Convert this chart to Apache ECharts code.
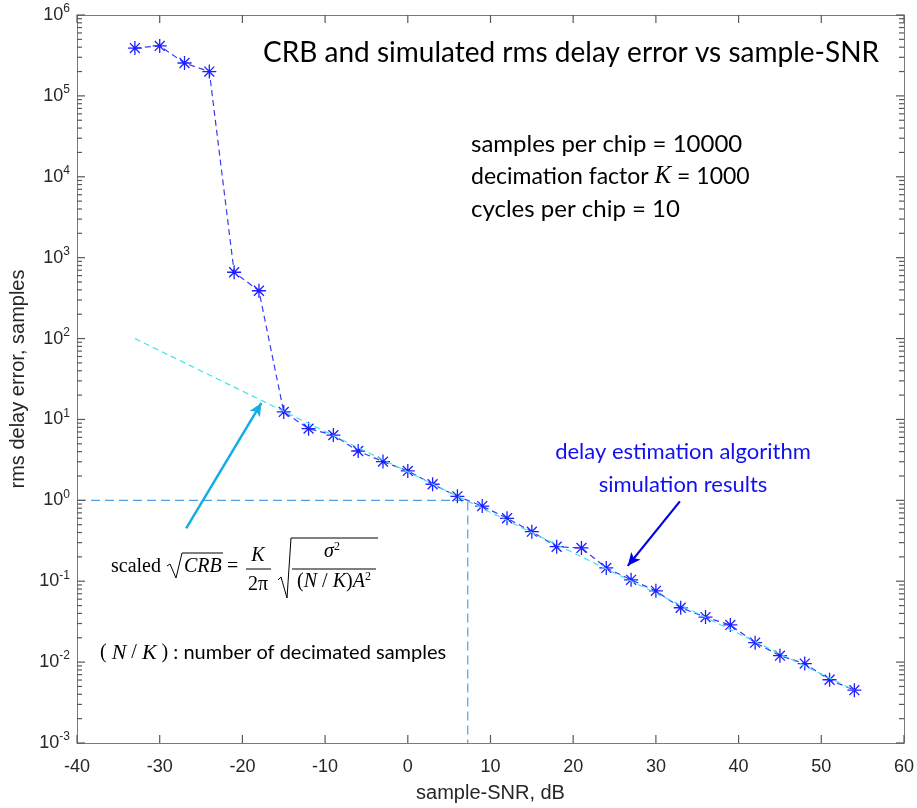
<!DOCTYPE html>
<html>
<head>
<meta charset="utf-8">
<script src="https://cdn.jsdelivr.net/npm/echarts@6/dist/echarts.min.js"></script>
<style>
  html, body { margin: 0; padding: 0; background: #ffffff; }
  #chart { width: 917px; height: 808px; }
</style>
</head>
<body>
<div id="chart"></div>
<script>
// Simulated rms delay error (samples) for each sample-SNR (dB)
const snrDb = [-33, -30, -27, -24, -21, -18, -15, -12, -9, -6, -3, 0, 3, 6, 9, 12, 15, 18, 21, 24, 27, 30, 33, 36, 39, 42, 45, 48, 51, 54];
const rmsError = [3.9e5, 4.15e5, 2.55e5, 2.0e5, 660, 390, 12.4, 7.7, 6.4, 4.07, 3.01, 2.31, 1.58, 1.12, 0.85, 0.60, 0.41, 0.267, 0.258, 0.146, 0.104, 0.076, 0.047, 0.036, 0.0288, 0.0174, 0.0120, 0.0096, 0.00605, 0.0045];

// Scaled sqrt(CRB): a straight line on log axes, given by its two ends
const crbSnr = [-33, 54];
const crbValue = [100, 0.0045];

// Guide lines marking where the CRB crosses one sample
const guideSnr = [-40, 7.25, 7.25];
const guideValue = [1, 1, 0.001];

// Axis ranges and ticks
const xMin = -40, xMax = 60, xStep = 10;
const xTicks = [-40, -30, -20, -10, 0, 10, 20, 30, 40, 50, 60];
const yMin = 1e-3, yMax = 1e6;
const yMajor = [1e-3, 1e-2, 1e-1, 1, 1e1, 1e2, 1e3, 1e4, 1e5, 1e6];
const yMinorMult = [2, 3, 4, 5, 6, 7, 8, 9];

// Annotation arrows (data coordinates: tail, head)
const crbArrow = [[-26.8, 0.45], [-17.7, 16]];
const simArrow = [[32.9, 0.97], [26.6, 0.155]];

const yMinor = [];
yMajor.slice(0, -1).forEach(d => yMinorMult.forEach(m => yMinor.push(+(d * m).toPrecision(3))));

const axisGray = '#7a7a7a';
const tickColor = '#595959';
const labelGray = '#262626';
const sansFont = '"Liberation Sans", Arial, sans-serif';
const calFont = 'Lato, "Open Sans", sans-serif';
const serifFont = '"Liberation Serif", "Times New Roman", serif';

function pairs(xs, ys) { return xs.map((x, i) => [x, ys[i]]); }

// Inward box ticks: [x, y, length, side]; side 0 left, 1 right, 2 bottom, 3 top
const majorLen = 8, minorLen = 5;
const boxTicks = [];
yMajor.forEach(v => { boxTicks.push([xMin, v, majorLen, 0]); boxTicks.push([xMax, v, majorLen, 1]); });
yMinor.forEach(v => { boxTicks.push([xMin, v, minorLen, 0]); boxTicks.push([xMax, v, minorLen, 1]); });
xTicks.forEach(v => { boxTicks.push([v, yMin, majorLen, 2]); boxTicks.push([v, yMax, majorLen, 3]); });

function renderTick(params, api) {
  const p = api.coord([api.value(0), api.value(1)]);
  const len = api.value(2), side = api.value(3);
  const dx = side === 0 ? len : side === 1 ? -len : 0;
  const dy = side === 2 ? -len : side === 3 ? len : 0;
  return {
    type: 'line',
    shape: { x1: p[0], y1: p[1], x2: p[0] + dx, y2: p[1] + dy },
    style: { stroke: tickColor, lineWidth: 1.2 }
  };
}

const asterisk = 'path://M0,-10L0,10M-10,0L10,0M-7.07,-7.07L7.07,7.07M-7.07,7.07L7.07,-7.07';

function yAxisBase(position) {
  return {
    type: 'log', logBase: 10, min: yMin, max: yMax, position: position,
    axisLine: { show: true, onZero: false, lineStyle: { color: axisGray, width: 1 } },
    splitLine: { show: false },
    axisLabel: { show: false },
    axisTick: { show: false },
    minorTick: { show: false }
  };
}

const chart = echarts.init(document.getElementById('chart'), null, { renderer: 'canvas' });

const leftAxis = yAxisBase('left');
leftAxis.axisLabel = {
  show: true, customValues: yMajor, margin: 7,
  formatter: v => '{b|10}{s|' + Math.round(Math.log10(v)) + '}',
  rich: {
    b: { fontFamily: sansFont, fontSize: 18, color: labelGray },
    s: { fontFamily: sansFont, fontSize: 12, color: labelGray, padding: [0, 0, 12, 0] }
  }
};
leftAxis.name = 'rms delay error, samples';
leftAxis.nameLocation = 'middle';
leftAxis.nameGap = 49;
leftAxis.nameTextStyle = { fontFamily: sansFont, fontSize: 20, color: labelGray };
const rightAxis = yAxisBase('right');

function xAxisBase(position) {
  return {
    type: 'value', min: xMin, max: xMax, interval: xStep, position: position,
    axisLine: { show: true, onZero: false, lineStyle: { color: axisGray, width: 1 } },
    splitLine: { show: false },
    axisTick: { show: false },
    axisLabel: { show: false }
  };
}
const xBottom = xAxisBase('bottom');
xBottom.axisLabel = { show: true, fontFamily: sansFont, fontSize: 18, color: labelGray, margin: 15 };
xBottom.name = 'sample-SNR, dB';
xBottom.nameLocation = 'middle';
xBottom.nameGap = 40;
xBottom.nameTextStyle = { fontFamily: sansFont, fontSize: 20, color: labelGray };
const xTop = xAxisBase('top');

const black = '#000';
const option = {
  backgroundColor: '#ffffff',
  animation: false,
  grid: { left: 77, right: 12, top: 15, bottom: 62, containLabel: false },
  xAxis: [xBottom, xTop],
  yAxis: [leftAxis, rightAxis],
  series: [
    {
      name: 'box ticks', type: 'custom', xAxisIndex: 0, yAxisIndex: 0,
      data: boxTicks, renderItem: renderTick, clip: false, silent: true, z: 10
    },
    {
      name: 'guide', type: 'line', xAxisIndex: 0, yAxisIndex: 0,
      data: pairs(guideSnr, guideValue), showSymbol: false, symbol: 'none',
      lineStyle: { color: '#4aa0ec', width: 1.2, type: [9, 5] }, z: 2, silent: true
    },
    {
      name: 'simulation', type: 'line', xAxisIndex: 0, yAxisIndex: 0,
      data: pairs(snrDb, rmsError),
      symbol: asterisk, symbolSize: 14, showAllSymbol: true,
      itemStyle: { color: '#1f1fff', borderColor: '#1f1fff', borderWidth: 1.3 },
      lineStyle: { color: '#3a3aef', width: 1.2, type: [6, 4] }, z: 3,
      markLine: {
        silent: true, symbol: ['none', 'arrow'], symbolSize: [9, 13], label: { show: false },
        data: [
          [{ coord: simArrow[0], lineStyle: { color: '#0000e6', width: 2.2, type: 'solid' } }, { coord: simArrow[1] }],
          [{ coord: crbArrow[0], lineStyle: { color: '#14aee6', width: 2.5, type: 'solid' } }, { coord: crbArrow[1] }]
        ]
      }
    },
    {
      name: 'CRB', type: 'line', xAxisIndex: 0, yAxisIndex: 0,
      data: pairs(crbSnr, crbValue), symbol: 'none',
      lineStyle: { color: '#3fe3f0', width: 1.2, type: [6, 4] }, z: 4
    }
  ],
  graphic: [
    { type: 'text', left: 263, top: 39, style: { text: 'CRB and simulated rms delay error vs sample-SNR', font: '28px ' + calFont, fill: black } },
    { type: 'text', left: 471, top: 132, style: { text: 'samples per chip = 10000', font: '24px ' + calFont, fill: black } },
    { type: 'text', left: 471, top: 164, style: {
      text: '{a|decimation factor }{k|K}{a| = 1000}',
      rich: { a: { font: '23px ' + calFont, fill: black }, k: { font: 'italic 25px ' + serifFont, fill: black } }
    } },
    { type: 'text', left: 471, top: 197, style: { text: 'cycles per chip = 10', font: '24px ' + calFont, fill: black } },
    { type: 'text', x: 683, y: 441, style: { text: 'delay estimation algorithm', font: '22px ' + calFont, fill: '#1010f0', align: 'center' } },
    { type: 'text', x: 683, y: 474, style: { text: 'simulation results', font: '22px ' + calFont, fill: '#1010f0', align: 'center' } },
    // scaled sqrt(CRB) = K / (2 pi) * sqrt(sigma^2 / ((N/K) A^2))
    { type: 'text', x: 111, y: 557, style: { text: 'scaled', font: '20px ' + serifFont, fill: black } },
    { type: 'polyline', shape: { points: [[167, 566], [170, 564], [176, 578], [182, 553], [223, 553]] }, style: { stroke: black, lineWidth: 1, fill: null } },
    { type: 'text', x: 184, y: 557, style: { text: 'CRB', font: 'italic 20px ' + serifFont, fill: black } },
    { type: 'text', x: 227, y: 557, style: { text: '=', font: '20px ' + serifFont, fill: black } },
    { type: 'text', x: 258, y: 546, style: { text: 'K', font: 'italic 20px ' + serifFont, fill: black, align: 'center' } },
    { type: 'line', shape: { x1: 246, y1: 569, x2: 271, y2: 569 }, style: { stroke: black, lineWidth: 1 } },
    { type: 'text', x: 258, y: 575, style: { text: '2π', font: '20px ' + serifFont, fill: black, align: 'center' } },
    { type: 'polyline', shape: { points: [[278, 580], [281, 577], [287, 598], [291, 538], [378, 538]] }, style: { stroke: black, lineWidth: 1, fill: null } },
    { type: 'text', x: 332, y: 541, style: {
      text: '{v|σ}{s|2}', rich: { v: { font: 'italic 20px ' + serifFont, fill: black }, s: { font: '12px ' + serifFont, fill: black, padding: [0, 0, 9, 0] } },
      align: 'center' } },
    { type: 'line', shape: { x1: 292, y1: 569, x2: 376, y2: 569 }, style: { stroke: black, lineWidth: 1 } },
    { type: 'text', x: 334, y: 571, style: {
      text: '{r|(}{i|N}{r| / }{i|K}{r|)}{i|A}{s|2}',
      rich: { r: { font: '20px ' + serifFont, fill: black }, i: { font: 'italic 20px ' + serifFont, fill: black }, s: { font: '12px ' + serifFont, fill: black, padding: [0, 0, 9, 0] } },
      align: 'center' } },
    { type: 'text', left: 100, top: 642, style: {
      text: '{r|( }{i|N}{r| / }{i|K}{r| )}{c| : number of decimated samples}',
      rich: { r: { font: '20px ' + serifFont, fill: black }, i: { font: 'italic 22px ' + serifFont, fill: black }, c: { font: '20px ' + calFont, fill: black } }
    } }
  ]
};
chart.setOption(option);
</script>
</body>
</html>
